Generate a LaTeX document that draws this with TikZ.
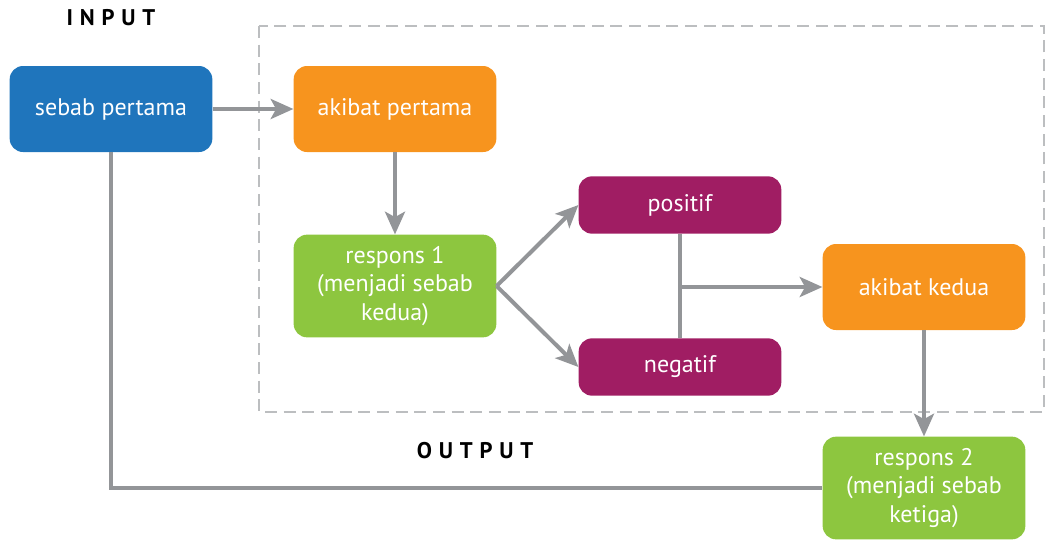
\documentclass[tikz,border=0pt]{standalone}
\usepackage{fontspec}
\setmainfont{PT Sans}
\usetikzlibrary{arrows.meta}
\definecolor{sebabblue}{HTML}{1F75BC}
\definecolor{akibatorange}{HTML}{F7941E}
\definecolor{responsgreen}{HTML}{8DC63F}
\definecolor{hasilpurple}{HTML}{A01D63}
\definecolor{linegray}{HTML}{939598}
\definecolor{dashgray}{HTML}{BCBEC0}
\begin{document}
\begin{tikzpicture}[x=0.75pt,y=-0.75pt,
    box/.style={rounded corners=10pt,text=white,align=center,minimum width=152pt,
        minimum height=64.5pt,inner sep=2pt,font=\fontsize{18}{21.5}\selectfont},
    tallbox/.style={box,minimum height=77pt},
    flatbox/.style={box,minimum height=43pt},
    arr/.style={draw=linegray,line width=3pt,-{Stealth[length=17pt,width=15pt,inset=4pt]}},
    link/.style={draw=linegray,line width=3pt},
    title/.style={font=\bfseries\fontsize{17}{20}\selectfont\addfontfeature{LetterSpace=30}}]
    \useasboundingbox (0,0) rectangle (1047,540);
            \draw[dashgray,line width=1.2pt,dash pattern=on 9pt off 5pt] (259,26) rectangle (1044,412);
            \node[title] (input) at (111,18) {INPUT};
            \node[title] (output) at (475,451) {OUTPUT};
            \node[box,fill=sebabblue] (sebab) at (111,109) {sebab pertama};
            \node[box,fill=akibatorange] (akibat1) at (395,109) {akibat pertama};
            \node[tallbox,fill=responsgreen] (respons1) at (395,286) {respons 1\\(menjadi sebab\\kedua)};
            \node[flatbox,fill=hasilpurple] (positif) at (680,205) {positif};
            \node[flatbox,fill=hasilpurple] (negatif) at (680,367) {negatif};
            \node[box,fill=akibatorange] (akibat2) at (924,287) {akibat kedua};
            \node[tallbox,fill=responsgreen] (respons2) at (924,488) {respons 2\\(menjadi sebab\\ketiga)};

            \draw[arr] (sebab) -- (akibat1);
            \draw[arr] (akibat1) -- (respons1);
            \draw[arr] (respons1.east) -- (positif.west);
            \draw[arr] (respons1.east) -- (negatif.west);
            \draw[link] (positif) -- (negatif);
            \draw[arr] (positif.south |- akibat2.west) -- (akibat2.west);
            \draw[arr] (akibat2) -- (respons2);
            \draw[link] (sebab.south) |- (respons2.west);
        \end{tikzpicture}
\end{document}
